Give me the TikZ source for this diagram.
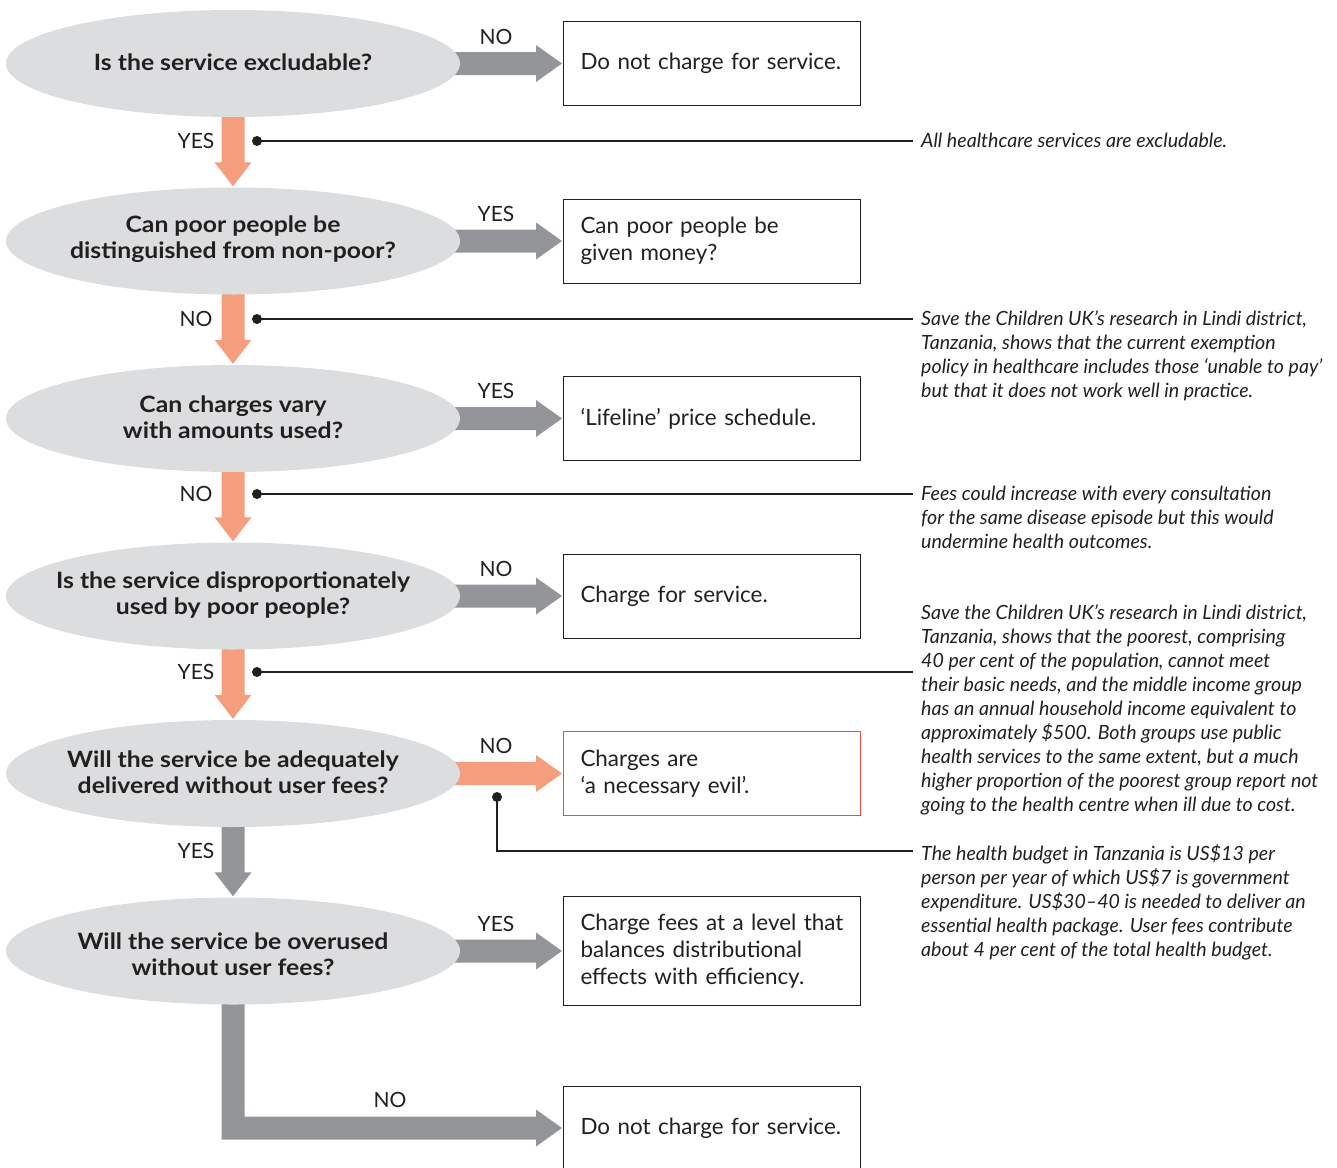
\documentclass[tikz,border=0pt]{standalone}
\usepackage{fontspec}
\setmainfont{Lato}
\newfontfamily\qfont{Lato}[FakeStretch=1.1]
\usetikzlibrary{shapes.geometric,calc,backgrounds}
\definecolor{egray}{HTML}{DCDDDE}
\definecolor{agray}{HTML}{939598}
\definecolor{salmon}{HTML}{F59E7D}
\definecolor{ink}{HTML}{231F20}
\definecolor{redline}{HTML}{EF4B45}
\newcommand\vfat[3]{%
 \fill[#3] ($(#1.south)+(-11.5,-3)$) -- ($(#2.north)+(-11.5,-25)$) -- ($(#2.north)+(-18.5,-25)$) -- ($(#2.north)+(0,-1)$) -- ($(#2.north)+(18.5,-25)$) -- ($(#2.north)+(11.5,-25)$) -- ($(#1.south)+(11.5,-3)$) -- cycle;}
\newcommand\hfat[3]{%
 \fill[#3] ($(#1.east)+(-6,-11.5)$) -- ($(#2.west)+(-27,-11.5)$) -- ($(#2.west)+(-27,-18.5)$) -- ($(#2.west)+(-1,0)$) -- ($(#2.west)+(-27,18.5)$) -- ($(#2.west)+(-27,11.5)$) -- ($(#1.east)+(-6,11.5)$) -- cycle;}
\begin{document}
\begin{tikzpicture}[x=1pt,y=-1pt,
 q/.style={ellipse, fill=egray, minimum width=454pt, minimum height=107pt, inner sep=0pt},
 qt/.style={font=\qfont\bfseries\fontsize{22.5}{26}\selectfont, align=center, text=ink, inner sep=0pt},
 ans/.style={draw=ink, line width=1pt, minimum height=84pt, anchor=west, inner xsep=17pt, text=ink, align=left, font=\fontsize{22.4}{27}\selectfont, text width=263pt},
 nt/.style={anchor=north west, inner xsep=8pt, inner ysep=0pt, align=left, font=\fontsize{19.6}{24}\selectfont\itshape, text=ink},
 lab/.style={font=\fontsize{21}{21}\selectfont, text=ink, inner sep=0pt},
 dotn/.style={circle, fill=ink, inner sep=0pt, minimum size=10pt},
 cl/.style={draw=ink, line width=1.3pt}]
\useasboundingbox (0,0) rectangle (1337,1167);
\clip (0,0) rectangle (1337,1167);
% questions
\node[q] (q1) at (233,63.5) {};
\node[q] (q2) at (233,241) {};
\node[q] (q3) at (233,418.5) {};
\node[q] (q4) at (233,596) {};
\node[q] (q5) at (233,773.5) {};
\node[q] (q6) at (233,951) {};
\node[qt] (q1t) at ($(q1)+(0,-1.5)$) {Is the service excludable?};
\node[qt] (q2t) at ($(q2)+(0,-1.5)$) {Can poor people be\\distinguished from non-poor?};
\node[qt] (q3t) at ($(q3)+(0,-1)$) {Can charges vary\\with amounts used?};
\node[qt] (q4t) at ($(q4)+(0,-1)$) {Is the service disproportionately\\used by poor people?};
\node[qt] (q5t) at ($(q5)+(0,-1)$) {Will the service be adequately\\delivered without user fees?};
\node[qt] (q6t) at ($(q6)+(0,3)$) {Will the service be overused\\without user fees?};
% answers
\node[ans] (a1) at (563,63.5) {Do not charge for service.};
\node[ans] (a2) at (563,241) {Can poor people be\\given money?};
\node[ans] (a3) at (563,418.5) {‘Lifeline’ price schedule.};
\node[ans] (a4) at (563,596) {Charge for service.};
\node[ans, draw=redline] (a5) at (563,773.5) {Charges are\\‘a necessary evil’.};
\node[ans, minimum height=109pt] (a6) at (563,951) {Charge fees at a level that\\balances distributional\\effects with efficiency.};
\node[ans] (a7) at (563,1128) {Do not charge for service.};
% arrows
\begin{pgfonlayer}{background}
\vfat{q1}{q2}{salmon}
\vfat{q2}{q3}{salmon}
\vfat{q3}{q4}{salmon}
\vfat{q4}{q5}{salmon}
\vfat{q5}{q6}{agray}
\hfat{q1}{a1}{agray}
\hfat{q2}{a2}{agray}
\hfat{q3}{a3}{agray}
\hfat{q4}{a4}{agray}
\hfat{q5}{a5}{salmon}
\hfat{q6}{a6}{agray}
\fill[agray] ($(q6.south)+(-11.5,-3)$) -- ($(q6.south |- a7.west)+(-11.5,11.5)$) -- ($(a7.west)+(-27,11.5)$) -- ($(a7.west)+(-27,18.5)$) -- ($(a7.west)+(-1,0)$) -- ($(a7.west)+(-27,-18.5)$) -- ($(a7.west)+(-27,-11.5)$) -- ($(q6.south |- a7.west)+(11.5,-11.5)$) -- ($(q6.south)+(11.5,-3)$) -- cycle;
\end{pgfonlayer}
% labels
\node[lab] (l1) at (496,37) {NO};
\node[lab] (l2) at (496,214) {YES};
\node[lab] (l3) at (496,391) {YES};
\node[lab] (l4) at (496,569) {NO};
\node[lab] (l5) at (496,746) {NO};
\node[lab] (l6) at (496,924) {YES};
\node[lab] (l7) at (390,1100) {NO};
\node[lab] (v1) at (196,141) {YES};
\node[lab] (v2) at (196,319) {NO};
\node[lab] (v3) at (196,494) {NO};
\node[lab] (v4) at (196,672) {YES};
\node[lab] (v5) at (196,851) {YES};
% notes
\node[nt] (n1) at (913,133) {All healthcare services are excludable.};
\node[nt] (n2) at (913,311) {Save the Children UK’s research in Lindi district,\\Tanzania, shows that the current exemption\\policy in healthcare includes those ‘unable to pay’\\but that it does not work well in practice.};
\node[nt] (n3) at (913,486) {Fees could increase with every consultation\\for the same disease episode but this would\\undermine health outcomes.};
\node[nt] (n4) at (913,605) {Save the Children UK’s research in Lindi district,\\Tanzania, shows that the poorest, comprising\\40 per cent of the population, cannot meet\\their basic needs, and the middle income group\\has an annual household income equivalent to\\approximately \$500. Both groups use public\\health services to the same extent, but a much\\higher proportion of the poorest group report not\\going to the health centre when ill due to cost.};
\node[nt] (n5) at (913,844) {The health budget in Tanzania is US\$13 per\\person per year of which US\$7 is government\\expenditure. US\$30–40 is needed to deliver an\\essential health package. User fees contribute\\about 4 per cent of the total health budget.};
% callouts
\node[dotn] (d1) at (257,141) {};
\node[dotn] (d2) at (257,319) {};
\node[dotn] (d3) at (257,494) {};
\node[dotn] (d4) at (257,672) {};
\node[dotn] (d5) at (497,797) {};
\coordinate (c5) at (497,851);
\draw[cl] (d1.center) -- (d1 -| n1.west);
\draw[cl] (d2.center) -- (d2 -| n2.west);
\draw[cl] (d3.center) -- (d3 -| n3.west);
\draw[cl] (d4.center) -- (d4 -| n4.west);
\draw[cl] (d5.center) -- (c5) -- (c5 -| n5.west);
\end{tikzpicture}
\end{document}
